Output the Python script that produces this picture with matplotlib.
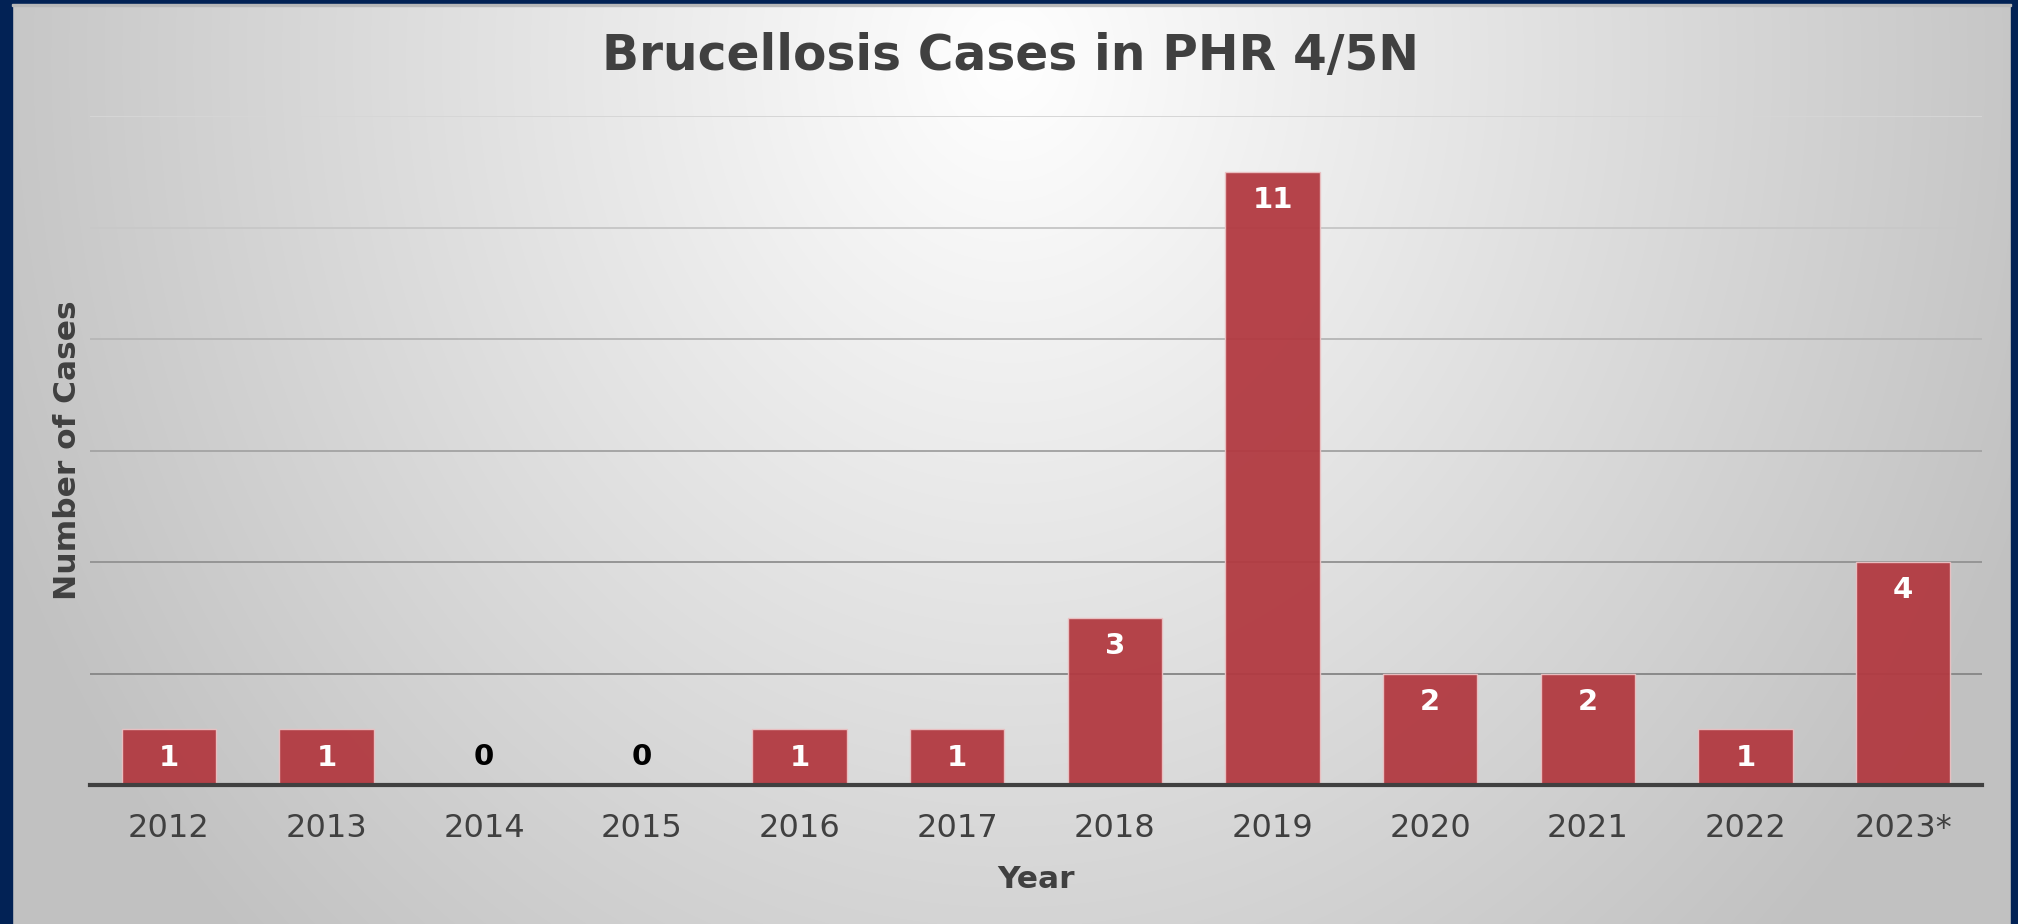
import numpy as np
import matplotlib
matplotlib.use('Agg')
import matplotlib.pyplot as plt
from matplotlib.patches import Rectangle

# data
years = ['2012', '2013', '2014', '2015', '2016', '2017',
         '2018', '2019', '2020', '2021', '2022', '2023*']
cases = [1, 1, 0, 0, 1, 1, 3, 11, 2, 2, 1, 4]

W, H = 2018, 924
fig = plt.figure(figsize=(W / 100, H / 100), dpi=100)

# radial gradient background (white at top centre, grey at the edges)
bg = fig.add_axes([0, 0, 1, 1])
yy, xx = np.mgrid[0:H, 0:W]
d = np.sqrt(((xx - 1009) / 1100.0) ** 2 + ((yy - 60) / 1250.0) ** 2)
shade = 255 - 62 * np.clip(d, 0, 1)
img = np.dstack([shade, shade, shade]).astype(np.uint8)
bg.imshow(img, aspect='auto', extent=[0, W, H, 0])
bg.set_xlim(0, W)
bg.set_ylim(H, 0)
bg.axis('off')

# navy frame on left / top / right
navy = '#022255'
bg.add_patch(Rectangle((0, 0), 12, H, color=navy))
bg.add_patch(Rectangle((0, 0), W, 4, color=navy))
bg.add_patch(Rectangle((2011, 0), W - 2011, H, color=navy))
bg.add_patch(Rectangle((12, 4), 1999, 2, color='#b8b8b8'))

# main chart
left, right, top, base = 90, 1982, 116, 785
ax = fig.add_axes([left / W, (H - base) / H, (right - left) / W, (base - top) / H])
ax.patch.set_alpha(0)

x = np.arange(len(years))
bars = ax.bar(x, cases, width=0.6, color='#B23A41', alpha=0.95,
              edgecolor='#EBC2C4', linewidth=1.0, zorder=3)

ax.set_xlim(-0.5, len(years) - 0.5)
ax.set_ylim(0, 12)
ax.set_yticks(np.arange(2, 13, 2))
ax.set_yticklabels([])
ax.tick_params(axis='y', length=0)
ax.tick_params(axis='x', length=0, pad=20, labelsize=23, labelcolor='#404040')
ax.set_xticks(x)
ax.set_xticklabels(years)

# gridlines get lighter toward the top
ax.yaxis.grid(True, zorder=1)
for gl, c in zip(ax.get_ygridlines(), ['#8a8a8a', '#959595', '#a6a6a6', '#b8b8b8', '#c8c8c8', '#d6d6d6']):
    gl.set_color(c)
    gl.set_linewidth(1.4)

for s in ['left', 'right', 'top']:
    ax.spines[s].set_visible(False)
ax.spines['bottom'].set_color('#404040')
ax.spines['bottom'].set_linewidth(3)
ax.spines['bottom'].set_zorder(4)

# value labels
for xi, v in zip(x, cases):
    if v > 0:
        ax.annotate(str(v), (xi, v), xytext=(0, -20.5), textcoords='offset points',
                    ha='center', va='center', color='white', fontsize=21,
                    fontweight='bold', zorder=5)
    else:
        ax.annotate(str(v), (xi, v), xytext=(0, 20), textcoords='offset points',
                    ha='center', va='center', color='black', fontsize=21,
                    fontweight='bold', zorder=5)

ax.set_xlabel('Year', fontsize=22.5, fontweight='bold', color='#404040', labelpad=15)
ax.set_ylabel('Number of Cases', fontsize=22.5, fontweight='bold', color='#404040', labelpad=2)

fig.text(1011 / W, 1 - 56 / H, 'Brucellosis Cases in PHR 4/5N', ha='center', va='center',
         fontsize=35, fontweight='bold', color='#404040')

fig.savefig('out.png', dpi=100)
